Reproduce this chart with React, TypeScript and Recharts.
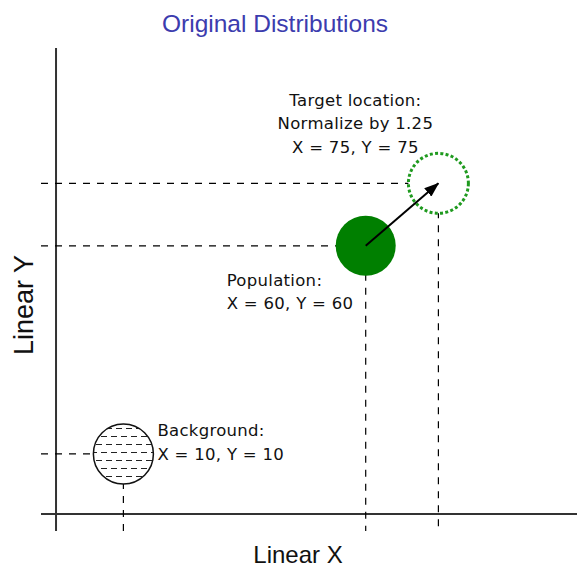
import { ScatterChart, Scatter, XAxis, YAxis, ReferenceLine } from "recharts";

const pointNames = ["Background", "Population", "Target"];
const xValues = [10, 60, 75];
const yValues = [10, 60, 75];
const pointLabels = [
  ["Background:", "X = 10, Y = 10"],
  ["Population:", "X = 60, Y = 60"],
  ["Target location:", "Normalize by 1.25", "X = 75, Y = 75"],
];
const titleText = "Original Distributions";
const xAxisLabel = "Linear X";
const yAxisLabel = "Linear Y";

// the original is a sketch, domains are fitted so the marks land where they are drawn
const X_DOMAIN: [number, number] = [-7, 103.6];
const Y_DOMAIN: [number, number] = [-8.5, 107.5];
const AXIS_CROSS_X = -3.9;
const AXIS_CROSS_Y = -4.4;

const points = pointNames.map((name, i) => ({
  name,
  x: xValues[i],
  y: yValues[i],
  lines: pointLabels[i],
}));
const background = [points[0]];
const population = [points[1]];
const target = [points[2]];
const arrow = [points[1], points[2]];

const noteFont = "'DejaVu Sans', Verdana, sans-serif";
const bigFont = "'Liberation Sans', Arial, sans-serif";

const noteLayout: Record<string, { dx: number; dy: number[]; anchor: "start" | "middle" }> = {
  Background: { dx: 34, dy: [-18, 6], anchor: "start" },
  Population: { dx: -139, dy: [40, 63], anchor: "start" },
  Target: { dx: -83, dy: [-77, -54, -30], anchor: "middle" },
};

function Note({ cx, cy, payload }: any) {
  const l = noteLayout[payload.name];
  return (
    <text
      fontFamily={noteFont}
      fontSize={16.5}
      letterSpacing={0.3}
      fill="#111"
      textAnchor={l.anchor}
    >
      {payload.lines.map((t: string, i: number) => (
        <tspan key={i} x={cx + l.dx} y={cy + l.dy[i]}>
          {t}
        </tspan>
      ))}
    </text>
  );
}

function BackgroundShape(props: any) {
  return (
    <g>
      <circle cx={props.cx} cy={props.cy} r={30} fill="url(#hatch)" stroke="#111" strokeWidth={1.5} />
      <Note {...props} />
    </g>
  );
}

function PopulationShape(props: any) {
  return (
    <g>
      <circle cx={props.cx} cy={props.cy} r={30} fill="#007f00" />
      <Note {...props} />
    </g>
  );
}

function TargetShape(props: any) {
  return (
    <g>
      <circle
        cx={props.cx}
        cy={props.cy}
        r={30}
        fill="#fff"
        stroke="#1f9a1f"
        strokeWidth={3}
        strokeDasharray="3 2.3"
      />
      <Note {...props} />
    </g>
  );
}

function ArrowLine(props: any) {
  const [a, b] = props.points;
  return (
    <line
      x1={a.x}
      y1={a.y}
      x2={b.x}
      y2={b.y}
      stroke="#000"
      strokeWidth={2}
      markerEnd="url(#arrowHead)"
    />
  );
}

export default function App() {
  const guideLines = points.flatMap((p) => [
    <ReferenceLine
      key={p.name + "-h"}
      segment={[
        { x: X_DOMAIN[0], y: p.y },
        { x: p.x, y: p.y },
      ]}
      stroke="#000"
      strokeWidth={1.2}
      strokeDasharray="7 7"
    />,
    <ReferenceLine
      key={p.name + "-v"}
      segment={[
        { x: p.x, y: p.y },
        { x: p.x, y: Y_DOMAIN[0] },
      ]}
      stroke="#000"
      strokeWidth={1.2}
      strokeDasharray="7 7"
    />,
  ]);

  return (
    <div style={{ position: "absolute", left: 0, top: 0, background: "#fff" }}>
      <ScatterChart
        width={577}
        height={568}
        margin={{ top: 48, right: 0, bottom: 37, left: 41 }}
      >
        <defs>
          <pattern id="hatch" width={10} height={16} patternUnits="userSpaceOnUse">
            <rect width={10} height={16} fill="#fff" />
            <path d="M1,4.5H7 M6,12.5H10 M0,12.5H2" stroke="#222" strokeWidth={1.2} />
          </pattern>
          <marker
            id="arrowHead"
            markerWidth={15}
            markerHeight={11}
            refX={14}
            refY={5.5}
            orient="auto"
            markerUnits="userSpaceOnUse"
          >
            <path d="M0,0 L15,5.5 L0,11 z" fill="#000" />
          </marker>
        </defs>
        <XAxis type="number" dataKey="x" domain={X_DOMAIN} hide allowDataOverflow />
        <YAxis type="number" dataKey="y" domain={Y_DOMAIN} hide allowDataOverflow />
        <ReferenceLine y={AXIS_CROSS_Y} stroke="#333" strokeWidth={2} />
        <ReferenceLine x={AXIS_CROSS_X} stroke="#333" strokeWidth={2} />
        {guideLines}
        <Scatter data={background} shape={BackgroundShape} isAnimationActive={false} />
        <Scatter data={population} shape={PopulationShape} isAnimationActive={false} />
        <Scatter data={target} shape={TargetShape} isAnimationActive={false} />
        <Scatter
          data={arrow}
          shape={() => <g />}
          line={ArrowLine}
          lineType="joint"
          isAnimationActive={false}
        />
        <text x={275} y={32} textAnchor="middle" fontFamily={bigFont} fontSize={24.5} fill="#3c3cae">
          {titleText}
        </text>
        <text x={298} y={563} textAnchor="middle" fontFamily={bigFont} fontSize={24} fill="#111">
          {xAxisLabel}
        </text>
        <text
          x={33}
          y={305}
          textAnchor="middle"
          fontFamily={bigFont}
          fontSize={27}
          fill="#111"
          transform="rotate(-90, 33, 305)"
        >
          {yAxisLabel}
        </text>
      </ScatterChart>
    </div>
  );
}
